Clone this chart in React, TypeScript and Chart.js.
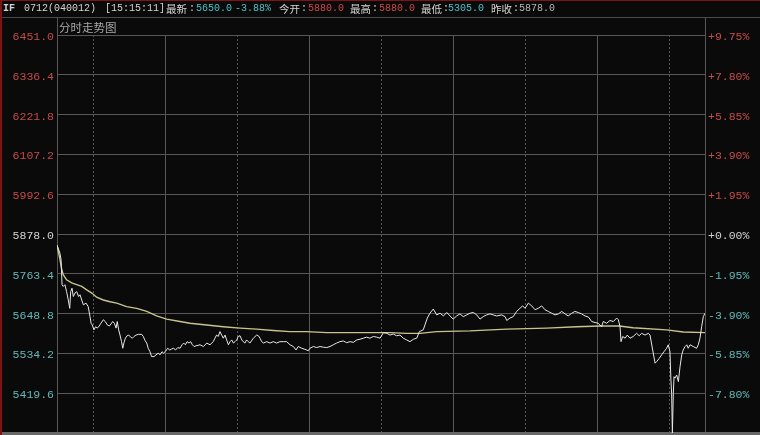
import React, { useEffect, useRef } from 'react';
import { Chart, registerables } from 'chart.js';

Chart.register(...registerables);

// ---- data ----
const prevClose = 5878.0;
const priceTicks = [6451.0, 6336.4, 6221.8, 6107.2, 5992.6, 5878.0, 5763.4, 5648.8, 5534.2, 5419.6, 5305.0];
const pctTicks = [9.75, 7.8, 5.85, 3.9, 1.95, 0.0, -1.95, -3.9, -5.85, -7.8, -9.75];
const sessionMinutes = 270;
const timeGridMinutes = [15, 45, 75, 105, 135, 165, 195, 225, 255];
const timeGridDotted = [true, false, true, false, true, false, true, false, true];

const priceMinutes = [
  0, 1.2, 1.7, 2.1, 2.6, 3.3, 4.0, 4.7, 5.3, 5.7, 6.25, 6.8, 7.5, 8.2, 9.0, 9.6, 10.3, 11.0, 12.1, 13.0,
  13.75, 14.2, 14.7, 15.4, 16.1, 16.8, 17.6, 18.3, 19.3, 20.1, 21.0, 21.8, 22.5, 23.2, 23.9, 24.6, 25.1, 25.7, 26.25, 26.9,
  27.4, 27.9, 28.5, 29.2, 29.9, 30.7, 31.4, 32.1, 32.9, 33.9, 35.3, 35.95, 36.7, 37.4, 38.0, 38.75, 39.4, 40.4, 41.25, 42.2,
  42.9, 43.75, 44.4, 45.3, 46.1, 47.0, 47.8, 48.6, 49.4, 50.3, 51.25, 52.1, 52.8, 53.5, 54.2, 55.0, 55.7, 56.4, 57.1, 57.9,
  59.6, 61.0, 62.4, 63.75, 65.1, 65.8, 66.5, 67.2, 67.9, 68.6, 69.3, 70.0, 70.7, 71.4, 72.1, 72.8, 73.5, 74.2, 74.9, 75.5,
  76.25, 77.0, 77.6, 78.3, 79.0, 79.7, 80.4, 81.8, 83.2, 83.9, 84.6, 85.3, 86.0, 87.4, 88.75, 90.1, 91.5, 92.9, 94.3, 95.7,
  97.1, 98.5, 99.6, 100.5, 102.0, 103.3, 104.7, 105.4, 106.8, 108.2, 109.6, 111.0, 112.4, 113.75, 115.1, 116.5, 117.9, 119.3, 120.7, 122.1,
  123.5, 124.9, 126.25, 127.6, 129.0, 130.4, 131.8, 133.2, 134.6, 136.0, 137.4, 138.75, 140.1, 141.5, 142.9, 144.3, 145.7, 147.1, 148.5, 149.9,
  151.0, 152.6, 154.3, 155.4, 156.8, 158.2, 159.6, 161.0, 162.4, 163.75, 165.1, 166.5, 167.9, 169.3, 170.7, 172.1, 173.5, 174.9, 176.25, 177.6,
  179.0, 180.4, 181.8, 183.2, 185.3, 186.7, 187.4, 188.75, 190.1, 191.5, 192.9, 194.0, 195.0, 196.4, 197.8, 199.2, 200.5, 201.95, 203.3, 204.7,
  206.1, 207.5, 208.9, 210.3, 211.7, 213.0, 214.5, 215.8, 217.2, 218.6, 220.0, 221.4, 222.8, 224.2, 225.5, 226.9, 227.6, 229.0, 230.4, 231.8,
  233.2, 233.9, 234.6, 235.0, 235.7, 236.7, 237.6, 238.75, 240.1, 241.5, 242.6, 243.6, 245.0, 246.4, 247.1, 248.2, 249.2, 249.9, 250.95, 251.95,
  252.9, 254.0, 254.7, 255.4, 255.8, 256.1, 256.4, 256.8, 257.1, 257.5, 258.2, 258.9, 259.6, 260.3, 260.9, 261.7, 262.4, 263.0, 263.75, 265.1,
  266.5, 267.2, 267.9, 268.6, 269.3, 270
];
const priceValues = [
  5846, 5823, 5804, 5732, 5727, 5732, 5712, 5688, 5664, 5712, 5722, 5698, 5708, 5712, 5698, 5703, 5688, 5674, 5679, 5669,
  5640, 5621, 5616, 5602, 5611, 5607, 5613, 5621, 5631, 5626, 5616, 5613, 5619, 5626, 5621, 5607, 5626, 5602, 5587, 5568,
  5549, 5565, 5578, 5585, 5587, 5581, 5578, 5583, 5587, 5589, 5589, 5583, 5571, 5564, 5549, 5539, 5525, 5525, 5530, 5535,
  5530, 5539, 5535, 5541, 5549, 5544, 5547, 5549, 5544, 5551, 5549, 5559, 5564, 5559, 5568, 5564, 5568, 5559, 5554, 5556,
  5559, 5554, 5564, 5559, 5568, 5578, 5587, 5583, 5597, 5587, 5578, 5587, 5573, 5559, 5568, 5573, 5564, 5568, 5573, 5583,
  5585, 5573, 5568, 5564, 5573, 5568, 5564, 5578, 5587, 5585, 5578, 5568, 5564, 5568, 5564, 5568, 5564, 5568, 5568, 5568,
  5559, 5554, 5544, 5554, 5549, 5546, 5542, 5549, 5554, 5551, 5554, 5552, 5551, 5554, 5559, 5564, 5568, 5570, 5565, 5568,
  5566, 5573, 5575, 5578, 5581, 5578, 5583, 5581, 5578, 5594, 5592, 5587, 5590, 5585, 5587, 5578, 5573, 5568, 5575, 5578,
  5597, 5602, 5636, 5650, 5662, 5645, 5650, 5642, 5652, 5642, 5633, 5642, 5648, 5640, 5645, 5650, 5652, 5645, 5633, 5640,
  5645, 5648, 5645, 5642, 5645, 5640, 5629, 5636, 5640, 5655, 5664, 5671, 5664, 5679, 5671, 5660, 5664, 5671, 5660, 5655,
  5650, 5645, 5648, 5655, 5648, 5642, 5650, 5655, 5652, 5648, 5642, 5639, 5626, 5623, 5621, 5611, 5626, 5621, 5629, 5626,
  5636, 5631, 5611, 5568, 5583, 5578, 5587, 5578, 5583, 5592, 5585, 5592, 5587, 5592, 5587, 5544, 5506, 5511, 5520, 5530,
  5539, 5549, 5559, 5539, 5458, 5419, 5305, 5419, 5467, 5463, 5472, 5453, 5496, 5530, 5544, 5554, 5559, 5549, 5559, 5554,
  5549, 5559, 5578, 5611, 5640, 5650
];

const avgMinutes = [
  0, 1.25, 2, 2.6, 4, 6.1, 8.2, 10.3, 12.4, 14.5, 16.5, 19.3, 22.1, 24.9, 29, 33.2, 37.4, 41.5, 45.7, 51.25,
  55.4, 69.3, 76.25, 83.2, 90.1, 97, 104, 112.4, 124.9, 138.75, 145.7, 151.25, 158.2, 172, 187.4, 204, 216.5, 226.25, 234.3, 240,
  254, 261, 270
];
const avgValues = [
  5846, 5804, 5775, 5761, 5746, 5737, 5732, 5727, 5717, 5708, 5696, 5688, 5683, 5679, 5669, 5664, 5655, 5642, 5633, 5626,
  5621, 5611, 5607, 5604, 5600, 5597, 5597, 5594, 5594, 5594, 5592, 5592, 5597, 5599, 5604, 5607, 5611, 5613, 5613, 5608,
  5602, 5596, 5594
];

// ---- styles ----
const BG = '#0a0a0a';
const GRID = '#575757';
const RED = '#c84a4a';
const CYAN = '#62b8b8';
const WHITE = '#d4d4d4';
const HEAD_CYAN = '#4cc4c8';
const HEAD_RED = '#d04848';
const MONO = '"Liberation Mono", "DejaVu Sans Mono", monospace';
const CJK = '"Noto Sans CJK SC", sans-serif';

const framePlugin = {
  id: 'frame',
  beforeDatasetsDraw(chart: any) {
    const { ctx, chartArea, scales, width, height } = chart;
    const { left, right, top, bottom } = chartArea;
    const x = scales.x;
    ctx.save();
    ctx.lineWidth = 1;
    // time grid
    timeGridMinutes.forEach((m, i) => {
      const px = Math.round(x.getPixelForValue(m)) + 0.5;
      ctx.strokeStyle = GRID;
      ctx.setLineDash(timeGridDotted[i] ? [2, 2] : []);
      ctx.beginPath();
      ctx.moveTo(px, top);
      ctx.lineTo(px, bottom);
      ctx.stroke();
    });
    ctx.setLineDash([]);
    // header separator
    const sepY = top - 17.5;
    ctx.strokeStyle = '#4a4a4a';
    ctx.beginPath();
    ctx.moveTo(0, sepY);
    ctx.lineTo(width, sepY);
    ctx.stroke();
    // side borders
    ctx.strokeStyle = GRID;
    [left, right].forEach((bx: number) => {
      const px = Math.round(bx) + 0.5;
      ctx.beginPath();
      ctx.moveTo(px, sepY);
      ctx.lineTo(px, height);
      ctx.stroke();
    });
    // bottom band
    ctx.fillStyle = '#686868';
    ctx.fillRect(0, Math.round(bottom) - 1, width, height - Math.round(bottom) + 1);
    // red edges
    ctx.fillStyle = '#7c1414';
    ctx.fillRect(0, 0, 2, height);
    ctx.fillRect(0, 0, width, 1);
    ctx.restore();
  },
};

export default function App() {
  const ref = useRef<HTMLCanvasElement | null>(null);

  useEffect(() => {
    if (!ref.current) return;
    const priceData = priceMinutes.map((m, i) => ({ x: m, y: priceValues[i] }));
    const avgData = avgMinutes.map((m, i) => ({ x: m, y: avgValues[i] }));
    const fitY = (w: number) => (s: any) => {
      s.width = w;
      s.paddingTop = 0;
      s.paddingBottom = 0;
    };
    const chart = new Chart(ref.current, {
      type: 'line',
      data: {
        datasets: [
          {
            label: '价格',
            data: priceData,
            borderColor: '#e8e8e8',
            borderWidth: 1,
            pointRadius: 0,
            tension: 0,
            order: 1,
          },
          {
            label: '均价',
            data: avgData,
            borderColor: '#c8c48e',
            borderWidth: 1.4,
            pointRadius: 0,
            tension: 0,
            order: 2,
          },
        ],
      },
      options: {
        responsive: false,
        animation: false,
        devicePixelRatio: 1,
        layout: { padding: { top: 35, bottom: 2, left: 0, right: 0 } },
        plugins: { legend: { display: false }, tooltip: { enabled: false } },
        scales: {
          x: { type: 'linear', min: 0, max: sessionMinutes, display: false },
          y: {
            position: 'left',
            min: priceTicks[priceTicks.length - 1],
            max: priceTicks[0],
            afterFit: fitY(57),
            afterBuildTicks: (s: any) => { s.ticks = priceTicks.map((v) => ({ value: v })); },
            grid: { color: GRID, lineWidth: 1, drawTicks: false },
            border: { display: false },
            ticks: {
              autoSkip: false,
              padding: 3,
              labelOffset: 2,
              font: { family: MONO, size: 11.5 },
              color: (c: any) => (c.tick.value > prevClose + 0.01 ? RED : Math.abs(c.tick.value - prevClose) < 0.01 ? WHITE : CYAN),
              callback: (v: any) => (v === priceTicks[priceTicks.length - 1] ? '' : Number(v).toFixed(1)),
            },
          },
          y2: {
            position: 'right',
            min: pctTicks[pctTicks.length - 1],
            max: pctTicks[0],
            afterFit: fitY(55),
            afterBuildTicks: (s: any) => { s.ticks = pctTicks.map((v) => ({ value: v })); },
            grid: { display: false, drawTicks: false },
            border: { display: false },
            ticks: {
              autoSkip: false,
              padding: 3,
              labelOffset: 2,
              font: { family: MONO, size: 11.5 },
              color: (c: any) => (c.tick.value > 0.001 ? RED : Math.abs(c.tick.value) < 0.001 ? WHITE : CYAN),
              callback: (v: any) => {
                const n = Number(v);
                if (n === pctTicks[pctTicks.length - 1]) return '';
                return (n >= 0 ? '+' : '') + n.toFixed(2) + '%';
              },
            },
          },
        },
      },
      plugins: [framePlugin],
    });
    return () => chart.destroy();
  }, []);

  const seg = (x: number, text: string, color: string, cjk = false, bold = false) => (
    <span
      key={x + text}
      style={{
        position: 'absolute',
        left: x,
        top: 0,
        height: 18,
        lineHeight: '18px',
        whiteSpace: 'pre',
        color,
        fontFamily: cjk ? CJK : MONO,
        fontSize: cjk ? 10.5 : 10,
        fontWeight: bold ? 'bold' : 'normal',
      }}
    >
      {text}
    </span>
  );

  return (
    <div style={{ position: 'absolute', left: 0, top: 0, width: 760, height: 435, background: BG, overflow: 'hidden' }}>
      <canvas ref={ref} width={760} height={435} style={{ position: 'absolute', left: 0, top: 0, width: 760, height: 435 }} />
      {seg(3, 'IF', WHITE, false, true)}
      {seg(24, '0712(040012)', WHITE)}
      {seg(105, '[15:15:11]', WHITE)}
      {seg(166, '最新', WHITE, true)}
      {seg(189, ':', WHITE)}
      {seg(196, '5650.0', HEAD_CYAN)}
      {seg(235, '-3.88%', HEAD_CYAN)}
      {seg(279, '今开', WHITE, true)}
      {seg(301, ':', WHITE)}
      {seg(308, '5880.0', HEAD_RED)}
      {seg(350, '最高', WHITE, true)}
      {seg(372, ':', WHITE)}
      {seg(379, '5880.0', HEAD_RED)}
      {seg(421, '最低', WHITE, true)}
      {seg(443, ':', WHITE)}
      {seg(448, '5305.0', HEAD_CYAN)}
      {seg(491, '昨收', WHITE, true)}
      {seg(513, ':', WHITE)}
      {seg(519, '5878.0', '#b8b8b8')}
      <span
        style={{
          position: 'absolute',
          left: 59,
          top: 19,
          height: 17,
          lineHeight: '17px',
          color: '#a8a8a8',
          fontFamily: CJK,
          fontSize: 11.5,
        }}
      >
        分时走势图
      </span>
    </div>
  );
}
